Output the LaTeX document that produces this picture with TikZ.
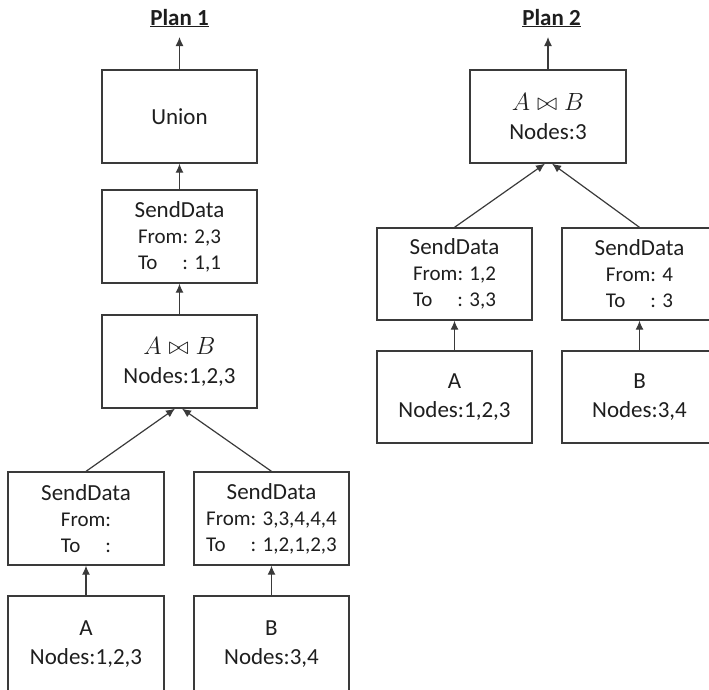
\documentclass[tikz,border=0pt]{standalone}
\usepackage{fontspec}
\setmainfont{Carlito}
\usetikzlibrary{arrows.meta}
\definecolor{linec}{HTML}{3A3A3A}
\definecolor{textc}{HTML}{1E1E1E}
\newcommand\mainsz{\fontsize{23}{29}\selectfont}
\newcommand\subsz{\fontsize{21}{26}\selectfont}
\newcommand\tolbl{\rlap{To}\phantom{From}}
\begin{document}
\begin{tikzpicture}[x=1pt,y=-1pt,
  box/.style={draw=linec, line width=1.3pt, minimum width=155pt, minimum height=93pt, inner sep=0pt, align=center, text=textc, font=\mainsz},
  sdbox/.style={box, font=\subsz},
  arr/.style={draw=linec, line width=1.2pt, -{Latex[length=9pt,width=8pt]}},
  title/.style={font=\mainsz\bfseries, text=textc, anchor=base, inner sep=0pt}]
\useasboundingbox (0,0) rectangle (709,689);
\clip (0,0) rectangle (709,689);
% ---------- Plan 1 ----------
\node[title] (p1) at (179.5,25) {\underline{Plan 1}};
\coordinate (top1) at (179.5,37);
\node[box] (union) at (179.5,116.5) {Union};
\node[sdbox] (sd1) at (179.5,236.5) {{\mainsz SendData}\\From: 2,3\\\tolbl: 1,1};
\node[box] (join1) at (179.5,361.5) {$A \bowtie B$\\Nodes:1,2,3};
\node[sdbox, minimum width=156pt] (sdl1) at (86,518.5) {{\mainsz SendData}\\From:\\\tolbl:};
\node[sdbox] (sdr1) at (271.5,518.5) {{\mainsz SendData}\\From: 3,3,4,4,4\\\tolbl: 1,2,1,2,3};
\node[box, minimum width=156pt, minimum height=96pt] (a1) at (86,644) {A\\Nodes:1,2,3};
\node[box, minimum height=96pt] (b1) at (271.5,644) {B\\Nodes:3,4};
\draw[arr] (union.north) -- (top1);
\draw[arr] (sd1.north) -- (union.south);
\draw[arr] (join1.north) -- (sd1.south);
\draw[arr] (sdl1.north) -- ([xshift=-4.5pt]join1.south);
\draw[arr] (sdr1.north) -- ([xshift=2.5pt]join1.south);
\draw[arr] (a1.north) -- (sdl1.south);
\draw[arr] (b1.north) -- (sdr1.south);
% ---------- Plan 2 ----------
\node[title] (p2) at (551.5,25) {\underline{Plan 2}};
\coordinate (top2) at (548,37);
\node[box, minimum width=156pt] (join2) at (548,116.5) {$A \bowtie B$\\Nodes:3};
\node[sdbox, minimum height=92pt] (sdl2) at (454.5,274) {{\mainsz SendData}\\From: 1,2\\\tolbl: 3,3};
\node[sdbox, minimum height=92pt] (sdr2) at (639.5,274) {{\mainsz SendData}\\From: 4\\\tolbl: 3};
\node[box, minimum height=92pt] (a2) at (454.5,397) {A\\Nodes:1,2,3};
\node[box, minimum height=92pt] (b2) at (639.5,397) {B\\Nodes:3,4};
\draw[arr] (join2.north) -- (top2);
\draw[arr] (sdl2.north) -- ([xshift=-3pt]join2.south);
\draw[arr] (sdr2.north) -- ([xshift=4pt]join2.south);
\draw[arr] (a2.north) -- (sdl2.south);
\draw[arr] (b2.north) -- (sdr2.south);
\end{tikzpicture}
\end{document}
